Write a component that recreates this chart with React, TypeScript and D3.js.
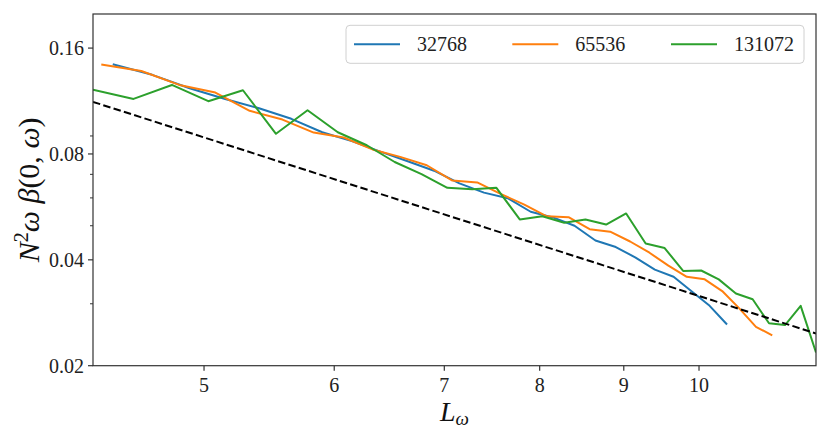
import React from "react";
import * as d3 from "d3";

const xTicks = [5, 6, 7, 8, 9, 10];
const yTicks = [0.02, 0.04, 0.08, 0.16];
const yMinorTicks = [0.03, 0.05, 0.06, 0.07, 0.09];
const legendLabels = ["32768", "65536", "131072"];

const blueX = [4.40, 4.65, 4.90, 5.15, 5.40, 5.65, 5.90, 6.15, 6.40, 6.65, 6.90, 7.15, 7.40, 7.65, 7.90, 8.15, 8.40, 8.65, 8.90, 9.15, 9.40, 9.65, 9.90, 10.15, 10.40];
const blueY = [0.1439, 0.1343, 0.1230, 0.1147, 0.1079, 0.1007, 0.0922, 0.0870, 0.0812, 0.0763, 0.0717, 0.0660, 0.0621, 0.0599, 0.0548, 0.0528, 0.0500, 0.0454, 0.0435, 0.0406, 0.0375, 0.0358, 0.0325, 0.0296, 0.0262];

const orangeX = [4.33, 4.58, 4.83, 5.08, 5.33, 5.58, 5.83, 6.08, 6.33, 6.58, 6.83, 7.08, 7.33, 7.58, 7.83, 8.08, 8.33, 8.58, 8.83, 9.08, 9.33, 9.58, 9.83, 10.08, 10.33, 10.58, 10.83, 11.08];
const orangeY = [0.1436, 0.1377, 0.1257, 0.1196, 0.1061, 0.1002, 0.0920, 0.0891, 0.0824, 0.0785, 0.0743, 0.0672, 0.0664, 0.0615, 0.0574, 0.0532, 0.0529, 0.0489, 0.0481, 0.0451, 0.0419, 0.0385, 0.0358, 0.0352, 0.0326, 0.0291, 0.0258, 0.0244];

const greenX = [4.28, 4.53, 4.78, 5.03, 5.28, 5.53, 5.78, 6.03, 6.28, 6.53, 6.78, 7.03, 7.28, 7.53, 7.78, 8.03, 8.28, 8.53, 8.78, 9.03, 9.28, 9.53, 9.78, 10.03, 10.28, 10.53, 10.78, 11.03, 11.28, 11.53, 11.78];
const greenY = [0.1219, 0.1147, 0.1257, 0.1130, 0.1214, 0.0913, 0.1065, 0.0922, 0.0847, 0.0759, 0.0701, 0.0641, 0.0635, 0.0641, 0.0521, 0.0532, 0.0510, 0.0521, 0.0504, 0.0542, 0.0445, 0.0432, 0.0372, 0.0373, 0.0352, 0.0321, 0.0309, 0.0264, 0.0261, 0.0296, 0.0218];

const refX = [4.28, 11.78];
const refY = [0.1125, 0.0247];

const colors = ["#1f77b4", "#ff7f0e", "#2ca02c"];

const W = 830;
const H = 439;
const left = 93;
const right = 816;
const top = 14;
const bottom = 365.7;
const FONT = "Liberation Serif, DejaVu Serif, serif";

export default function App() {
  const x = d3.scaleLog().domain([4.28, 11.78]).range([left, right]);
  const y = d3.scaleLog().domain([0.02, 0.2]).range([bottom, top]);
  const line = d3
    .line<[number, number]>()
    .x((d) => x(d[0]))
    .y((d) => y(d[1]));
  const zip = (a: number[], b: number[]) => a.map((v, i) => [v, b[i]] as [number, number]);
  const series = [zip(blueX, blueY), zip(orangeX, orangeY), zip(greenX, greenY)];
  const axisColor = "#333";

  const legX = 346;
  const legY = 25.3;
  const legW = 458;
  const legH = 38;
  const entryOffsets = [0, 158.3, 317];

  return (
    <svg width={W} height={H} style={{ position: "absolute", left: 0, top: 0, background: "#fff", fontFamily: FONT }}>
      <defs>
        <clipPath id="plotclip">
          <rect x={left} y={top} width={right - left} height={bottom - top} />
        </clipPath>
      </defs>
      <rect x={0} y={0} width={W} height={H} fill="#fff" />
      <g clipPath="url(#plotclip)">
        {series.map((s, i) => (
          <path key={i} d={line(s) || ""} fill="none" stroke={colors[i]} strokeWidth={2} strokeLinejoin="round" />
        ))}
        <path d={line(zip(refX, refY)) || ""} fill="none" stroke="#000" strokeWidth={2} strokeDasharray="7.5,3.3" />
      </g>
      <rect x={left} y={top} width={right - left} height={bottom - top} fill="none" stroke={axisColor} strokeWidth={1.2} />
      {yTicks.map((t) => (
        <g key={t}>
          <line x1={left - 5} x2={left} y1={y(t)} y2={y(t)} stroke={axisColor} strokeWidth={1.2} />
          <text x={left - 9} y={y(t)} dy="0.35em" textAnchor="end" fontSize={20} fill="#222" style={{ fontFamily: FONT }}>
            {t.toFixed(2)}
          </text>
        </g>
      ))}
      {yMinorTicks.map((t) => (
        <line key={t} x1={left - 3} x2={left} y1={y(t)} y2={y(t)} stroke={axisColor} strokeWidth={1} />
      ))}
      {xTicks.map((t) => (
        <g key={t}>
          <line x1={x(t)} x2={x(t)} y1={bottom} y2={bottom + 5} stroke={axisColor} strokeWidth={1.2} />
          <text x={x(t)} y={391.5} textAnchor="middle" fontSize={20} fill="#222" style={{ fontFamily: FONT }}>
            {t}
          </text>
        </g>
      ))}
      <text x={(left + right) / 2} y={421} textAnchor="middle" fontSize={28} fill="#111" style={{ fontFamily: FONT }}>
        <tspan fontStyle="italic">L</tspan>
        <tspan fontStyle="italic" fontSize={19} dy={4}>ω</tspan>
      </text>
      <text
        transform={`translate(39, ${(top + bottom) / 2}) rotate(-90)`}
        textAnchor="middle"
        fontSize={30}
        fill="#111"
        style={{ fontFamily: FONT }}
      >
        <tspan fontStyle="italic">N</tspan>
        <tspan fontSize={20} dy={-11}>2</tspan>
        <tspan fontStyle="italic" dy={11}>ω</tspan>
        <tspan> </tspan>
        <tspan fontStyle="italic">β</tspan>
        <tspan>(0, </tspan>
        <tspan fontStyle="italic">ω</tspan>
        <tspan>)</tspan>
      </text>
      <rect x={legX} y={legY} width={legW} height={legH} rx={4} fill="#fff" fillOpacity={0.8} stroke="#d0d0d0" strokeWidth={1} />
      {legendLabels.map((lab, i) => (
        <g key={lab} transform={`translate(${legX + 8 + entryOffsets[i]}, ${legY + legH / 2})`}>
          <line x1={0} x2={46} y1={0} y2={0} stroke={colors[i]} strokeWidth={2} />
          <text x={63} y={0} dy="0.35em" fontSize={20} fill="#222" style={{ fontFamily: FONT }}>
            {lab}
          </text>
        </g>
      ))}
    </svg>
  );
}
